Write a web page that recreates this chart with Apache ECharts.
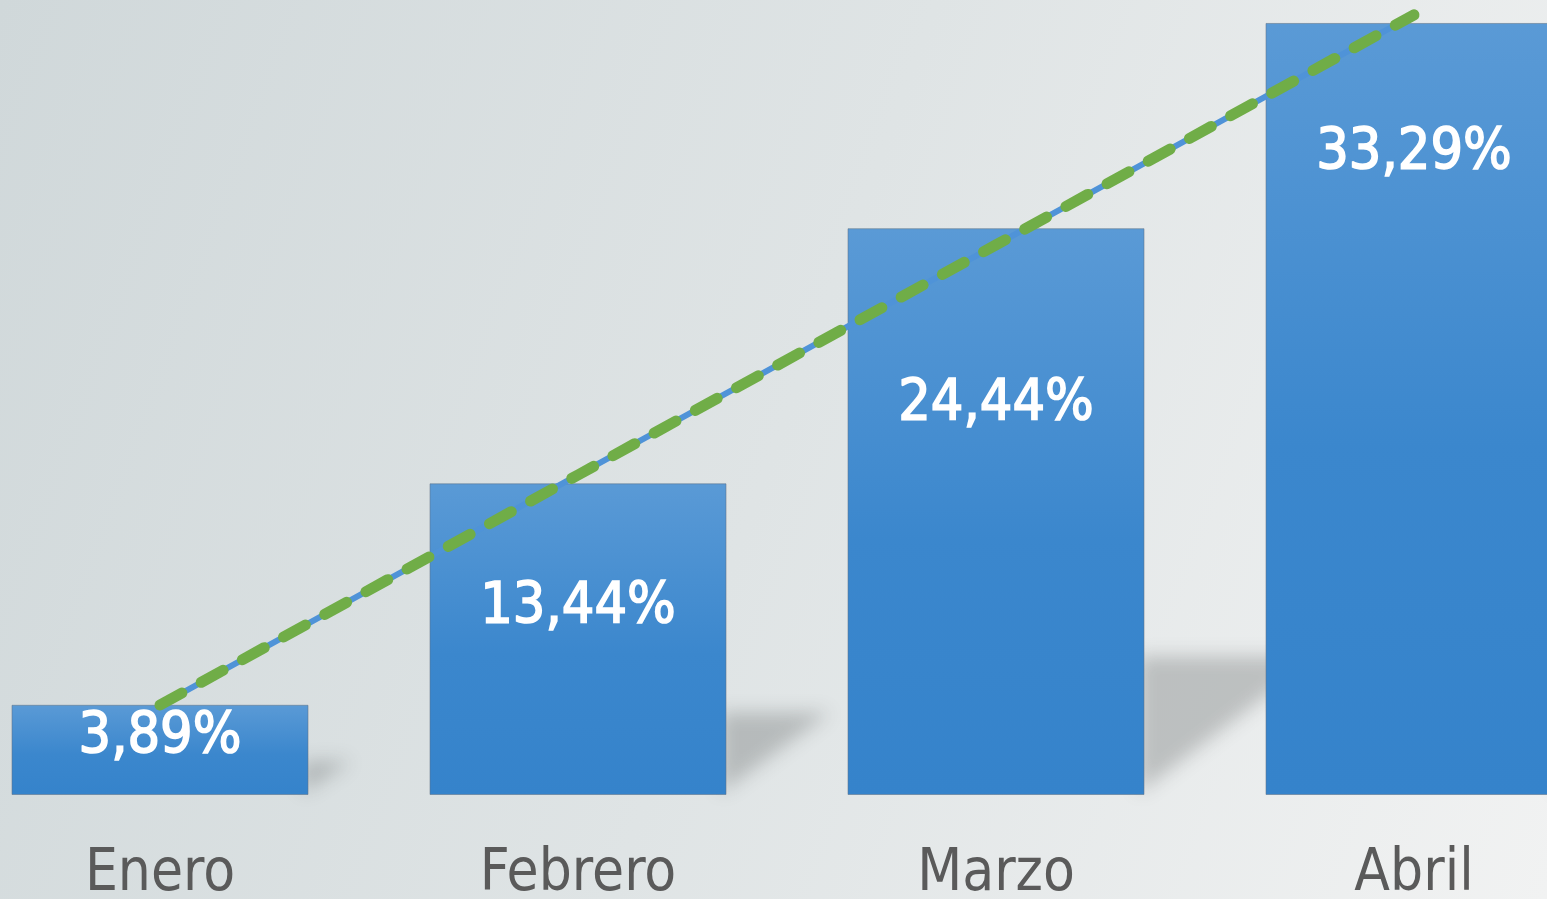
<!DOCTYPE html>
<html>
<head>
<meta charset="utf-8">
<script src="https://cdn.jsdelivr.net/npm/echarts@6/dist/echarts.min.js"></script>
<style>
  html, body { margin: 0; padding: 0; width: 100%; height: 100%; overflow: hidden; }
  body {
    position: relative;
    background: linear-gradient(110deg, #d0d8da 0%, #dfe4e5 50%, #f1f2f2 100%);
  }
  /* the plot runs a little past both page edges */
  #chart { position: absolute; left: -49px; top: 0; width: 1672px; height: 899px; }
</style>
</head>
<body>
<div id="chart"></div>
<script>
// Monthly share, January to April
const months = ['Enero', 'Febrero', 'Marzo', 'Abril'];
const shareValues = [3.89, 13.44, 24.44, 33.29];
// Linear trend across the four months
const trendValues = [3.88, 13.80, 23.72, 33.64];

// Layout settings (not data)
const BAR_W = 297;
const labelDrop = [33, 125, 177, 131];   // px from bar top to value label centre
const FONT = '"DejaVu Sans Condensed", "DejaVu Sans", sans-serif';

const chart = echarts.init(document.getElementById('chart'), null, { renderer: 'canvas' });

function fmt(v) {
  return v.toFixed(2).replace('.', ',') + '%';
}

const barData = shareValues.map((v, i) => ({
  value: v,
  label: {
    position: ['50%', labelDrop[i]]
  }
}));

const option = {
  backgroundColor: 'transparent',
  animation: false,
  grid: {
    left: 0, right: 0, top: 6.5, bottom: 104,
    containLabel: false,
    outerBoundsMode: 'none'
  },
  xAxis: {
    type: 'category',
    data: months,
    axisLine: { show: false },
    axisTick: { show: false },
    axisLabel: {
      color: '#5a5a5a',
      fontSize: 58,
      fontFamily: FONT,
      margin: 51
    }
  },
  yAxis: {
    type: 'value',
    min: 0,
    max: 34,
    show: false,
    splitLine: { show: false }
  },
  series: [
    {
      // soft floor shadow cast by each bar
      type: 'custom',
      z: 1,
      silent: true,
      data: shareValues.map((v, i) => [i, v]),
      renderItem(params, api) {
        const base = api.coord([api.value(0), 0]);
        const top = api.coord([api.value(0), api.value(1)]);
        const h = base[1] - top[1];
        const xr = base[0] + BAR_W / 2;
        const hs = 0.22 * h + 14;
        const w = hs * 1.25;
        const OFF = 5000;
        return {
          type: 'polygon',
          shape: {
            points: [
              [xr - OFF - 6, base[1] - 2],
              [xr - OFF - 6, base[1] - hs],
              [xr - OFF + w, base[1] - hs]
            ]
          },
          style: {
            fill: '#000',
            shadowBlur: 18,
            shadowColor: 'rgba(60,65,65,0.26)',
            shadowOffsetX: OFF,
            shadowOffsetY: 0
          }
        };
      }
    },
    {
      type: 'bar',
      z: 2,
      data: barData,
      barWidth: BAR_W,
      itemStyle: {
        color: {
          type: 'linear', x: 0, y: 0, x2: 0, y2: 1,
          colorStops: [
            { offset: 0, color: '#5a9ad6' },
            { offset: 0.55, color: '#3b87cd' },
            { offset: 1, color: '#3583cb' }
          ]
        },
        borderColor: 'rgba(95,115,135,0.55)',
        borderWidth: 1
      },
      label: {
        show: true,
        align: 'center',
        verticalAlign: 'middle',
        color: '#ffffff',
        fontSize: 57,
        fontFamily: FONT,
        textBorderColor: '#ffffff',
        textBorderWidth: 1.6,
        formatter: p => fmt(p.value)
      }
    },
    {
      // blue base line under the trend
      type: 'line',
      z: 3,
      data: trendValues,
      symbol: 'none',
      lineStyle: { color: '#4f93d8', width: 6 }
    },
    {
      type: 'line',
      z: 4,
      data: trendValues,
      symbol: 'none',
      lineStyle: {
        color: '#70ad47',
        width: 11,
        type: [25, 22],
        cap: 'round'
      }
    }
  ]
};

chart.setOption(option);
</script>
</body>
</html>
